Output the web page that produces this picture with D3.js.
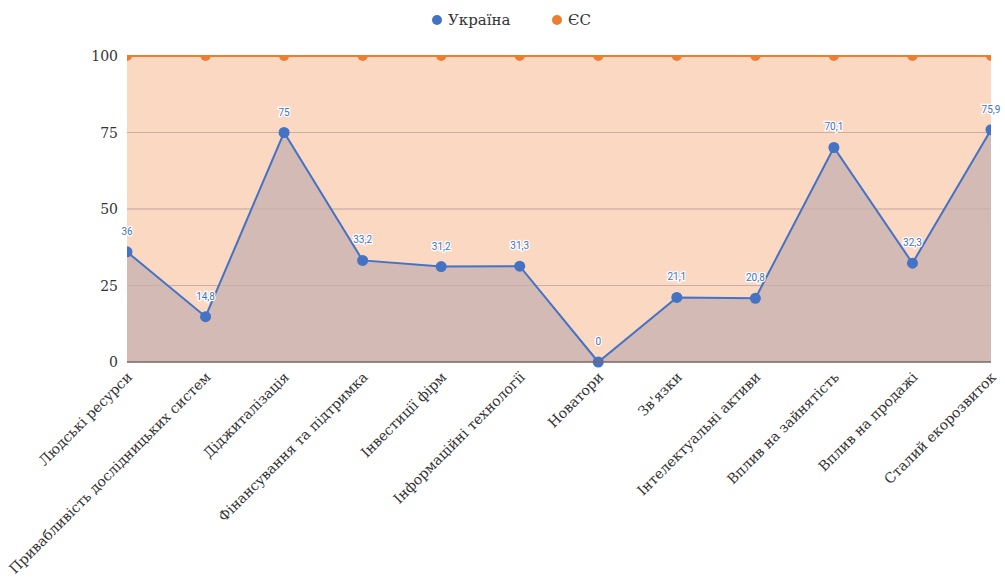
<!DOCTYPE html>
<html>
<head>
<meta charset="utf-8">
<script src="https://cdn.jsdelivr.net/npm/d3@7"></script>
<style>
  body { margin: 0; background: #fff; }
  svg { display: block; }
</style>
</head>
<body>
<svg id="chart" width="1005" height="583"></svg>
<script>
// дані
var categories = ["Людські ресурси", "Привабливість дослідницьких систем", "Діджиталізація",
  "Фінансування та підтримка", "Інвестиції фірм", "Інформаційні технології", "Новатори",
  "Зв'язки", "Інтелектуальні активи", "Вплив на зайнятість", "Вплив на продажі", "Сталий екорозвиток"];
var ukraine = [36, 14.8, 75, 33.2, 31.2, 31.3, 0, 21.1, 20.8, 70.1, 32.3, 75.9];
var eu = [100, 100, 100, 100, 100, 100, 100, 100, 100, 100, 100, 100];
var yTicks = [0, 25, 50, 75, 100];
var seriesNames = ["Україна", "ЄС"];
var colors = ["#4472c4", "#ed7d31"];

var svg = d3.select("#chart");
var pLeft = 127, pRight = 991, pTop = 56, pBottom = 362;
var serif = "'DejaVu Serif', serif";

var x = d3.scalePoint().domain(categories).range([pLeft, pRight]);
var y = d3.scaleLinear().domain([0, 100]).range([pBottom, pTop]);

svg.append("clipPath").attr("id", "clip")
  .append("rect").attr("x", pLeft).attr("y", pTop - 1).attr("width", pRight - pLeft).attr("height", pBottom - pTop + 10);

var plot = svg.append("g").attr("clip-path", "url(#clip)");

var area = function(vals) {
  return d3.area()
    .x(function(d, i) { return x(categories[i]); })
    .y0(y(0))
    .y1(function(d) { return y(d); })(vals);
};
var line = function(vals) {
  return d3.line()
    .x(function(d, i) { return x(categories[i]); })
    .y(function(d) { return y(d); })(vals);
};

var midTicks = yTicks.filter(function(t) { return t > 0 && t < 100; });

plot.append("path").attr("d", area(eu)).attr("fill", "#fad8c2");

// сітка
plot.selectAll(".grid").data(midTicks)
  .enter().append("line")
  .attr("x1", pLeft).attr("x2", pRight)
  .attr("y1", function(d) { return y(d); }).attr("y2", function(d) { return y(d); })
  .attr("stroke", "#e8c0aa").attr("stroke-width", 1);

plot.append("path").attr("d", area(ukraine)).attr("fill", "#d4bab4");

// сітка поверх області України
plot.selectAll(".grid2").data(midTicks)
  .enter().append("line")
  .attr("x1", pLeft).attr("x2", pRight)
  .attr("y1", function(d) { return y(d); }).attr("y2", function(d) { return y(d); })
  .attr("stroke", "#cbaea7").attr("stroke-width", 1);

plot.append("path").attr("d", line(eu)).attr("fill", "none")
  .attr("stroke", colors[1]).attr("stroke-width", 2);
plot.append("path").attr("d", line(ukraine)).attr("fill", "none")
  .attr("stroke", colors[0]).attr("stroke-width", 2);

plot.selectAll(".euDot").data(eu).enter().append("circle")
  .attr("cx", function(d, i) { return x(categories[i]); })
  .attr("cy", function(d) { return y(d); })
  .attr("r", 5).attr("fill", colors[1]);

plot.selectAll(".uaDot").data(ukraine).enter().append("circle")
  .attr("cx", function(d, i) { return x(categories[i]); })
  .attr("cy", function(d) { return y(d); })
  .attr("r", 5.5).attr("fill", colors[0]);

// вісь 0
svg.append("line").attr("x1", pLeft).attr("x2", pRight).attr("y1", y(0)).attr("y2", y(0))
  .attr("stroke", "#7d6660").attr("stroke-width", 1.5);

// підписи значень
svg.selectAll(".lbl").data(ukraine).enter().append("text")
  .attr("x", function(d, i) { return x(categories[i]); })
  .attr("y", function(d) { return y(d) - 17; })
  .attr("text-anchor", "middle")
  .attr("font-family", "Roboto, sans-serif").attr("font-size", 10)
  .attr("fill", colors[0])
  .attr("stroke", "#fff").attr("stroke-width", 2.5).attr("paint-order", "stroke")
  .text(function(d) { return String(d).replace(".", ","); });

// вісь Y
svg.selectAll(".ytick").data(yTicks).enter().append("text")
  .attr("x", 118).attr("y", function(d) { return y(d) + 5; })
  .attr("text-anchor", "end")
  .attr("font-family", serif).attr("font-size", 14)
  .attr("fill", "#333")
  .text(function(d) { return d; });

// вісь X
svg.selectAll(".xtick").data(categories).enter().append("text")
  .attr("transform", function(d) { return "translate(" + (x(d) + 6) + "," + (pBottom + 16) + ") rotate(-45)"; })
  .attr("text-anchor", "end")
  .attr("font-family", serif).attr("font-size", 14)
  .attr("fill", "#333")
  .text(function(d) { return d; });

// легенда
var legend = svg.append("g");
var lx = [437, 557];
seriesNames.forEach(function(n, i) {
  legend.append("circle").attr("cx", lx[i]).attr("cy", 20).attr("r", 5).attr("fill", colors[i]);
  legend.append("text").attr("x", lx[i] + 11).attr("y", 25)
    .attr("font-family", serif).attr("font-size", 15)
    .attr("fill", "#333").text(n);
});
</script>
</body>
</html>
